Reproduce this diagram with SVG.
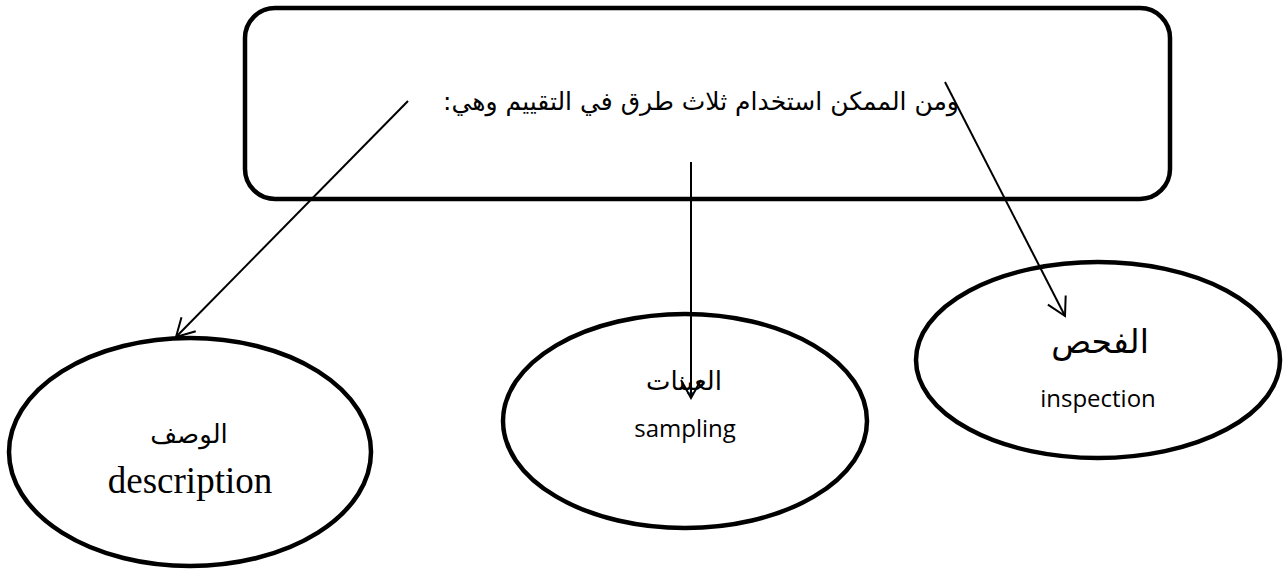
<svg xmlns="http://www.w3.org/2000/svg" width="1283" height="571" viewBox="0 0 1283 571">
  <style>
    .shape { fill: #ffffff; stroke: #000000; stroke-width: 4.5; }
    .link { fill: none; stroke: #000000; stroke-width: 2; }
    .ar { font-family: "DejaVu Sans", "Noto Sans", sans-serif; fill: #000000; direction: rtl; unicode-bidi: embed; text-anchor: middle; }
    .en-serif { font-family: "Liberation Serif", serif; fill: #000000; text-anchor: middle; }
    .en-sans { font-family: "Open Sans", "Noto Sans", sans-serif; fill: #000000; text-anchor: middle; }
  </style>
  <defs>
    <!-- open V arrowhead shared by all connectors -->
    <marker id="open-arrow" viewBox="0 0 22 22" refX="20" refY="11" markerWidth="22" markerHeight="22" markerUnits="userSpaceOnUse" orient="auto">
      <path d="M2,1 L20,11 L2,21" fill="none" stroke="#000000" stroke-width="2"/>
    </marker>
  </defs>

  <g id="node-main">
    <rect class="shape" x="245" y="8" width="925" height="191" rx="30" ry="30"/>
    <text class="ar" x="701" y="110" font-size="25">ومن الممكن استخدام ثلاث طرق في التقييم وهي:</text>
  </g>

  <g id="node-description">
    <ellipse class="shape" cx="190" cy="452" rx="181" ry="114"/>
    <text class="ar" x="189" y="443" font-size="26">الوصف</text>
    <text class="en-serif" x="190" y="493" font-size="37">description</text>
  </g>

  <g id="node-sampling">
    <ellipse class="shape" cx="685" cy="421" rx="182" ry="107"/>
    <text class="ar" x="684" y="390" font-size="26">العينات</text>
    <text class="en-sans" x="685" y="437" font-size="24">sampling</text>
  </g>

  <g id="node-inspection">
    <ellipse class="shape" cx="1098" cy="360" rx="182" ry="98"/>
    <text class="ar" x="1100" y="353" font-size="33">الفحص</text>
    <text class="en-sans" x="1098" y="407" font-size="24">inspection</text>
  </g>

  <g id="connectors">
    <line class="link" x1="408" y1="101" x2="176" y2="337" marker-end="url(#open-arrow)"/>
    <line class="link" x1="691" y1="162" x2="691" y2="398" marker-end="url(#open-arrow)"/>
    <line class="link" x1="945" y1="82" x2="1065" y2="316" marker-end="url(#open-arrow)"/>
  </g>
</svg>
